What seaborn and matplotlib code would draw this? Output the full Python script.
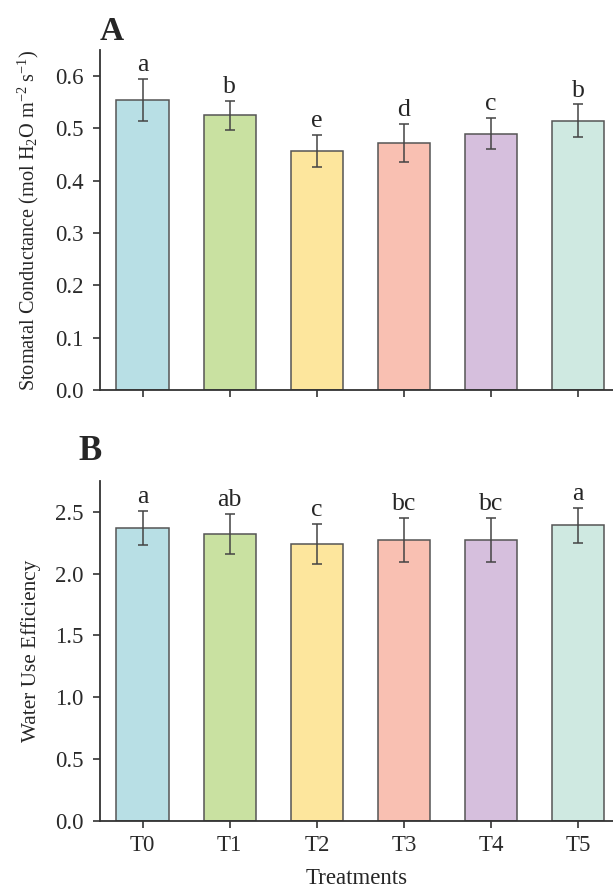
import pandas as pd
import seaborn as sns
import matplotlib.pyplot as plt

# data
treatments = ["T0", "T1", "T2", "T3", "T4", "T5"]
gs_mean = [0.555, 0.525, 0.457, 0.472, 0.490, 0.515]
gs_err = [0.040, 0.028, 0.030, 0.037, 0.030, 0.031]
gs_letters = ["a", "b", "e", "d", "c", "b"]
wue_mean = [2.37, 2.32, 2.24, 2.27, 2.27, 2.39]
wue_err = [0.14, 0.165, 0.165, 0.18, 0.18, 0.14]
wue_letters = ["a", "ab", "c", "bc", "bc", "a"]
bar_colors = ["#B8DFE5", "#C9E1A1", "#FDE69D", "#F9C0B2", "#D6BFDD", "#CFE9E1"]

sns.set_style("ticks")
plt.rcParams['font.family'] = ['Liberation Serif', 'DejaVu Serif']
plt.rcParams['mathtext.fontset'] = 'custom'
plt.rcParams['mathtext.rm'] = 'Liberation Serif'
plt.rcParams['mathtext.it'] = 'Liberation Serif:italic'

df = pd.DataFrame({"Treatment": treatments, "gs": gs_mean, "gs_err": gs_err,
                   "wue": wue_mean, "wue_err": wue_err})

fig = plt.figure(figsize=(6.13, 8.88), dpi=100)
ax1 = fig.add_axes([0.163, 0.5608, 0.837, 0.383])
ax2 = fig.add_axes([0.163, 0.0755, 0.837, 0.383])

panels = [
    (ax1, "gs", "gs_err", gs_letters, (0, 0.65), [0, 0.1, 0.2, 0.3, 0.4, 0.5, 0.6],
     r"Stomatal Conductance (mol H$_2$O m$^{-2}$ s$^{-1}$)", 14.6),
    (ax2, "wue", "wue_err", wue_letters, (0, 2.75), [0, 0.5, 1.0, 1.5, 2.0, 2.5],
     "Water Use Efficiency", 15.3),
]

for ax, col, ecol, letters, ylim, yticks, ylabel, ysize in panels:
    sns.barplot(data=df, x="Treatment", y=col, hue="Treatment", palette=bar_colors,
                saturation=1, width=0.6, edgecolor="#555555", linewidth=1.1,
                legend=False, ax=ax)
    ax.errorbar(range(len(treatments)), df[col], yerr=df[ecol], fmt="none",
                ecolor="#444444", elinewidth=1.1, capsize=3.5, capthick=1.1)
    for i, lab in enumerate(letters):
        ax.annotate(lab, (i, df[col][i] + df[ecol][i]), xytext=(0, 2),
                    textcoords="offset points", ha="center", va="bottom", fontsize=18.5)
    ax.set_ylim(*ylim)
    ax.set_xlim(-0.49, 5.4)
    ax.set_yticks(yticks)
    ax.set_yticklabels([f"{v:.1f}" for v in yticks])
    ax.set_ylabel(ylabel, fontsize=ysize, labelpad=10)
    ax.set_xlabel("")
    sns.despine(ax=ax)
    for s in ["left", "bottom"]:
        ax.spines[s].set_color("#333333")
        ax.spines[s].set_linewidth(1.3)
    ax.tick_params(axis="both", direction="out", length=5, width=1.2, color="#333333",
                   labelsize=16.5, labelcolor="#2a2a2a")
    ax.tick_params(axis="y", pad=7)
    ax.tick_params(axis="x", pad=5)

ax1.set_xticklabels([])
ax2.set_xlabel("Treatments", fontsize=16.5, labelpad=9)

fig.text(0.183, 0.965, "A", fontsize=24, fontweight="bold", ha="center", va="center")
fig.text(0.147, 0.492, "B", fontsize=25, fontweight="bold", ha="center", va="center")

fig.savefig("out.png", dpi=100)
